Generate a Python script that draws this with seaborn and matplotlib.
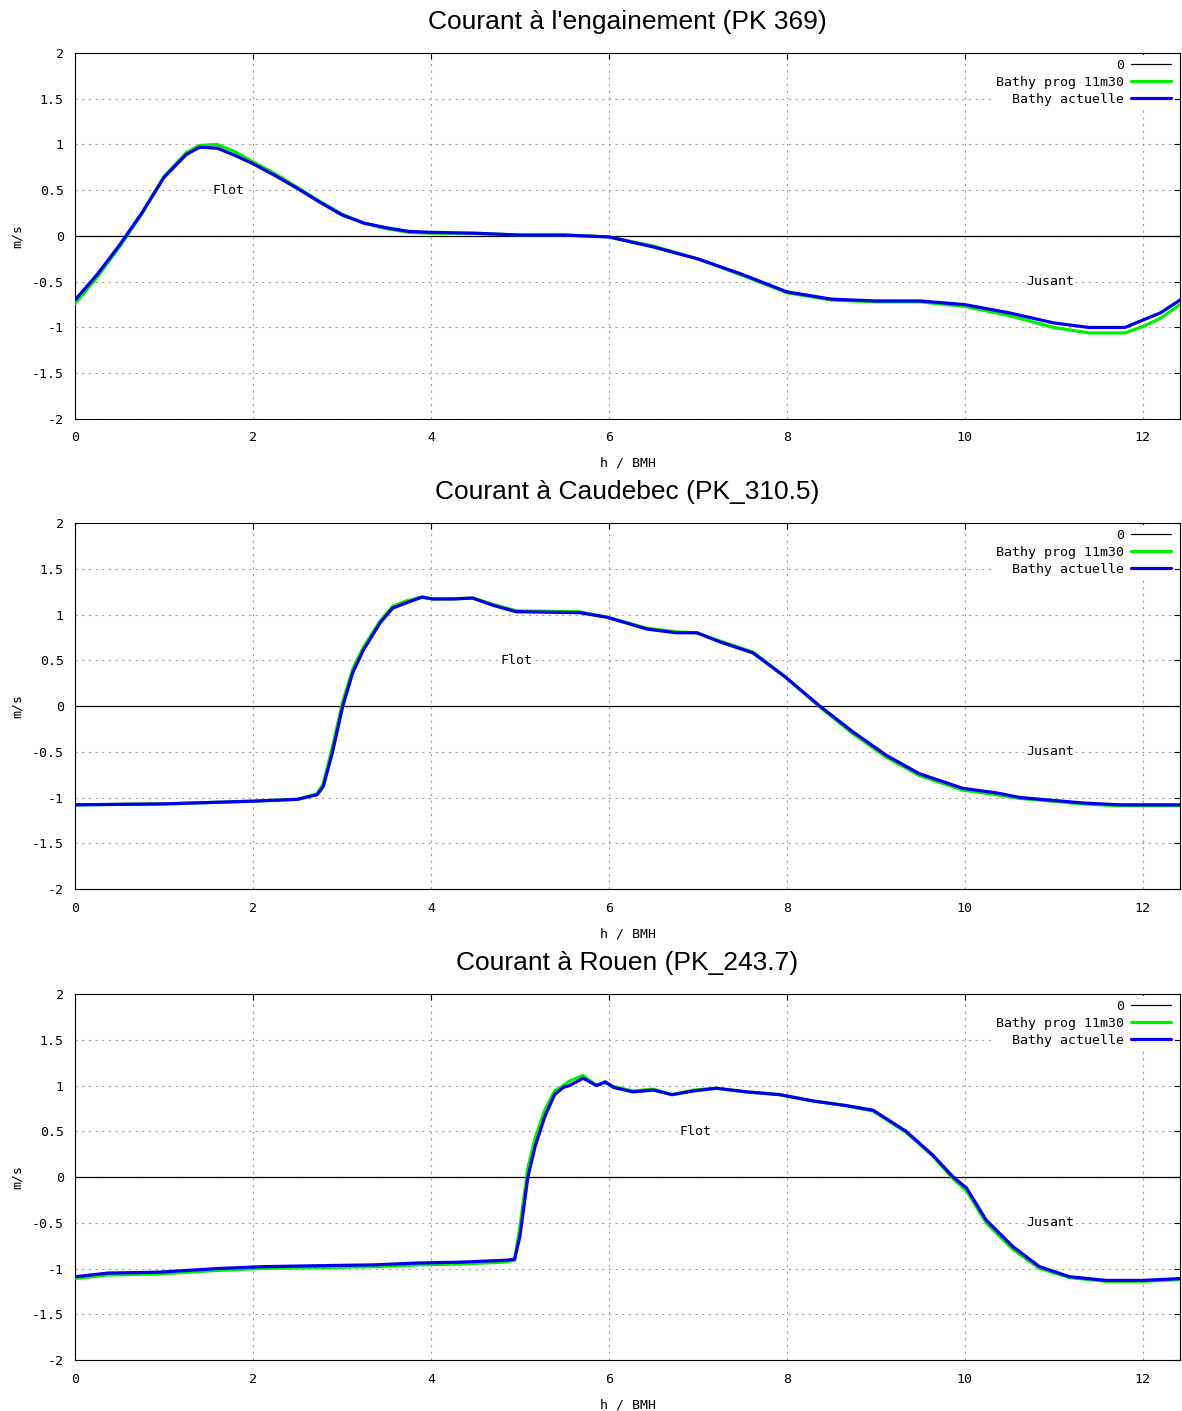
import matplotlib
matplotlib.use("Agg")
import matplotlib.pyplot as plt
import seaborn as sns

# Heures apres basse mer (h / BMH) et vitesses (m/s)
h1 = [0, 0.25, 0.5, 0.75, 1.0, 1.25, 1.4, 1.6, 1.8, 2.0, 2.25, 2.5, 2.75, 3.0, 3.25,
      3.5, 3.75, 4.0, 4.5, 5.0, 5.5, 6.0, 6.5, 7.0, 7.5, 8.0, 8.5, 9.0, 9.5, 10.0,
      10.5, 11.0, 11.4, 11.8, 12.0, 12.2, 12.42]
prog1 = [-0.74, -0.45, -0.12, 0.24, 0.65, 0.91, 0.99, 1.00, 0.92, 0.81, 0.68, 0.53,
         0.38, 0.24, 0.14, 0.08, 0.04, 0.03, 0.03, 0.01, 0.01, -0.01, -0.11, -0.25,
         -0.43, -0.62, -0.70, -0.72, -0.72, -0.77, -0.87, -1.00, -1.06, -1.06, -0.99,
         -0.90, -0.75]
act1 = [-0.70, -0.42, -0.10, 0.25, 0.64, 0.89, 0.97, 0.96, 0.88, 0.79, 0.66, 0.52,
        0.37, 0.23, 0.14, 0.09, 0.05, 0.04, 0.03, 0.01, 0.01, -0.01, -0.12, -0.25,
        -0.42, -0.61, -0.69, -0.71, -0.71, -0.75, -0.84, -0.95, -1.00, -1.00, -0.92,
        -0.84, -0.70]

h2 = [0, 1.0, 2.0, 2.5, 2.72, 2.79, 2.89, 3.01, 3.12, 3.24, 3.43, 3.57, 3.73, 3.9,
      4.02, 4.25, 4.47, 4.7, 4.96, 5.67, 5.98, 6.43, 6.76, 6.99, 7.25, 7.62, 7.98,
      8.37, 8.74, 9.12, 9.49, 9.98, 10.36, 10.62, 11.33, 11.74, 12.42]
prog2 = [-1.08, -1.07, -1.04, -1.02, -0.96, -0.85, -0.46, 0.05, 0.40, 0.64, 0.93,
         1.09, 1.15, 1.19, 1.17, 1.17, 1.18, 1.11, 1.04, 1.03, 0.97, 0.85, 0.81, 0.80,
         0.71, 0.59, 0.32, -0.01, -0.30, -0.56, -0.76, -0.92, -0.97, -1.01, -1.07,
         -1.09, -1.09]
act2 = [-1.08, -1.07, -1.04, -1.02, -0.97, -0.88, -0.52, 0.0, 0.36, 0.61, 0.91, 1.07,
        1.13, 1.19, 1.17, 1.17, 1.18, 1.10, 1.03, 1.02, 0.97, 0.84, 0.80, 0.80, 0.70,
        0.58, 0.32, 0.0, -0.28, -0.54, -0.74, -0.90, -0.95, -1.00, -1.06, -1.08, -1.08]

h3 = [0, 0.37, 0.94, 1.61, 2.1, 2.7, 3.37, 3.85, 4.35, 4.83, 4.94, 5.0, 5.09, 5.17,
      5.28, 5.39, 5.49, 5.56, 5.71, 5.86, 5.96, 6.05, 6.27, 6.5, 6.71, 6.95, 7.21,
      7.55, 7.92, 8.3, 8.67, 8.97, 9.34, 9.64, 9.87, 10.02, 10.24, 10.54, 10.84,
      11.18, 11.59, 12.0, 12.42]
prog3 = [-1.11, -1.07, -1.06, -1.02, -1.00, -0.99, -0.98, -0.96, -0.95, -0.93, -0.91,
         -0.55, 0.10, 0.42, 0.73, 0.94, 1.00, 1.05, 1.11, 1.00, 1.03, 0.99, 0.94,
         0.96, 0.90, 0.95, 0.97, 0.93, 0.90, 0.83, 0.78, 0.72, 0.49, 0.23, -0.02,
         -0.15, -0.50, -0.79, -1.00, -1.10, -1.14, -1.14, -1.12]
act3 = [-1.09, -1.05, -1.04, -1.00, -0.98, -0.97, -0.96, -0.94, -0.93, -0.91, -0.90,
        -0.65, 0.0, 0.33, 0.66, 0.90, 0.98, 1.00, 1.08, 1.00, 1.04, 0.98, 0.93, 0.95,
        0.90, 0.94, 0.97, 0.93, 0.90, 0.83, 0.78, 0.73, 0.50, 0.24, 0.0, -0.12, -0.47,
        -0.76, -0.98, -1.09, -1.13, -1.13, -1.11]

titles = ["Courant à l'engainement (PK 369)",
          "Courant à Caudebec (PK_310.5)",
          "Courant à Rouen (PK_243.7)"]
flot_pos = [(1.72, 0.5), (4.96, 0.5), (6.97, 0.5)]
jusant_pos = [(10.96, -0.5), (10.96, -0.5), (10.96, -0.5)]
series_labels = ["0", "Bathy prog 11m30", "Bathy actuelle"]
ytick_vals = [-2, -1.5, -1, -0.5, 0, 0.5, 1, 1.5, 2]
ytick_txt = ["-2", "-1.5", "-1", "-0.5", "0", "0.5", "1", "1.5", "2"]

MONO = "DejaVu Sans Mono"
TITLE_FONT = "Liberation Sans"

sns.set_theme(style="white")
plt.rcParams["font.family"] = [MONO]
plt.rcParams["font.size"] = 9.5
plt.rcParams["text.color"] = "black"
plt.rcParams["axes.labelcolor"] = "black"
plt.rcParams["axes.edgecolor"] = "black"
plt.rcParams["axes.linewidth"] = 0.8


def draw_panel(ax, h, prog, act, title, flot, jusant):
    ax.axhline(0, color="black", lw=0.9, zorder=1.5, label=series_labels[0])
    sns.lineplot(x=h, y=prog, ax=ax, color="#00ee00", lw=2.3, label=series_labels[1],
                 zorder=3)
    sns.lineplot(x=h, y=act, ax=ax, color="#0000ee", lw=2.3, label=series_labels[2],
                 zorder=4)

    ax.set_xlim(0, 12.42)
    ax.set_ylim(-2, 2)
    ax.set_xticks(range(0, 13, 2))
    ax.set_yticks(ytick_vals)
    ax.set_yticklabels(ytick_txt)
    ax.tick_params(direction="in", length=4, width=0.8, top=True, right=True,
                   labelsize=9.5, colors="black")
    ax.tick_params(axis="x", pad=9)
    ax.tick_params(axis="y", pad=8)
    ax.grid(True, color="#a0a0a0", lw=0.8, linestyle=(0, (2, 4)))
    ax.set_axisbelow(True)

    ax.set_xlabel("h / BMH", fontsize=9.5, labelpad=9)
    ax.set_ylabel("m/s", fontsize=9.5, labelpad=6)
    ax.set_title(title, fontsize=19, family=TITLE_FONT, pad=17, color="black")

    box = dict(facecolor="white", edgecolor="none", pad=1)
    ax.text(flot[0], flot[1], "Flot", ha="center", va="center", fontsize=9.5, bbox=box,
            zorder=2)
    ax.text(jusant[0], jusant[1], "Jusant", ha="center", va="center", fontsize=9.5,
            bbox=box, zorder=2)

    leg = ax.legend(loc="upper right", markerfirst=False, frameon=True,
                    facecolor="white", edgecolor="none", framealpha=1,
                    handlelength=3.0, handletextpad=0.5, labelspacing=0.3,
                    borderpad=0.3, borderaxespad=0.0,
                    bbox_to_anchor=(0.995, 0.995), fontsize=9.5)
    leg.get_frame().set_boxstyle("square", pad=0)


fig = plt.figure(figsize=(11.82, 14.11), dpi=100)
left, width, height = 0.06345, 0.9349, 0.25939
bottoms = [0.70305, 0.36995, 0.03614]
data = [(h1, prog1, act1), (h2, prog2, act2), (h3, prog3, act3)]

for i in range(3):
    ax = fig.add_axes([left, bottoms[i], width, height])
    h, prog, act = data[i]
    draw_panel(ax, h, prog, act, titles[i], flot_pos[i], jusant_pos[i])

fig.savefig("out.png", dpi=100, facecolor="white")
